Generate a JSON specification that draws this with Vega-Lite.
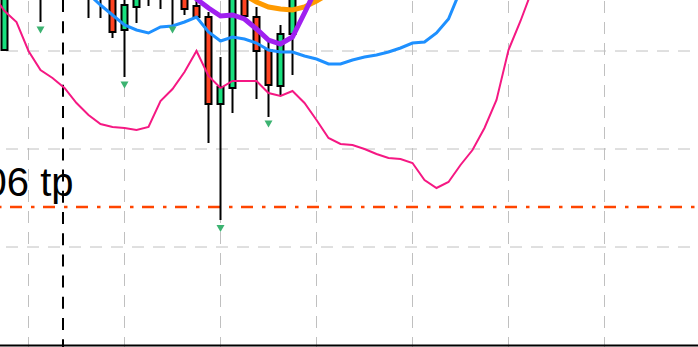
{
  "$schema": "https://vega.github.io/schema/vega-lite/v6.json",
  "width": 698,
  "height": 347,
  "autosize": {"type": "none"},
  "padding": 0,
  "background": "#ffffff",
  "config": {"view": {"stroke": null}, "scale": {"continuousPadding": 0}},
  "datasets": {
    "vgrid": [{"i": 2}, {"i": 10}, {"i": 18}, {"i": 26}, {"i": 34}, {"i": 42}, {"i": 50}],
    "hgrid": [{"v": 98}, {"v": 196}, {"v": 294}],
    "vline": [{"i": 4.875}],
    "tpline": [{"v": 138}],
    "baseline": [{"v": -0.5}],
    "label": [{"i": 5.75, "v": 149, "t": "06 tp"}],
    "candles": [
      {"i": 0, "o": 295, "h": 375, "l": 295, "c": 365},
      {"i": 3, "o": 360, "h": 385, "l": 323, "c": 375},
      {"i": 7, "o": 360, "h": 380, "l": 327, "c": 370},
      {"i": 8, "o": 365, "h": 380, "l": 327, "c": 358},
      {"i": 9, "o": 365, "h": 375, "l": 307, "c": 313},
      {"i": 10, "o": 315, "h": 350, "l": 268, "c": 340},
      {"i": 11, "o": 338, "h": 370, "l": 322, "c": 360},
      {"i": 12, "o": 355, "h": 375, "l": 339, "c": 365},
      {"i": 13, "o": 360, "h": 370, "l": 336, "c": 352},
      {"i": 14, "o": 355, "h": 372, "l": 318, "c": 365},
      {"i": 15, "o": 365, "h": 372, "l": 330, "c": 336},
      {"i": 16, "o": 339, "h": 352, "l": 328, "c": 328},
      {"i": 17, "o": 328, "h": 333, "l": 202, "c": 241},
      {"i": 18, "o": 241, "h": 288, "l": 125, "c": 258},
      {"i": 19, "o": 257, "h": 370, "l": 232, "c": 360},
      {"i": 20, "o": 365, "h": 372, "l": 329, "c": 329},
      {"i": 21, "o": 328, "h": 338, "l": 246, "c": 294},
      {"i": 22, "o": 295, "h": 305, "l": 228, "c": 260},
      {"i": 23, "o": 259, "h": 320, "l": 250, "c": 311},
      {"i": 24, "o": 311, "h": 370, "l": 270, "c": 360}
    ],
    "pink": [
      {"i": -1, "v": 351}, {"i": 0, "v": 334}, {"i": 1, "v": 323}, {"i": 2, "v": 294},
      {"i": 3, "v": 275}, {"i": 4, "v": 267}, {"i": 5, "v": 257}, {"i": 6, "v": 242},
      {"i": 7, "v": 230}, {"i": 8, "v": 221}, {"i": 9, "v": 218}, {"i": 10, "v": 217},
      {"i": 11, "v": 215}, {"i": 12, "v": 218}, {"i": 13, "v": 244}, {"i": 14, "v": 256},
      {"i": 15, "v": 273}, {"i": 16, "v": 294}, {"i": 17, "v": 269}, {"i": 18, "v": 257},
      {"i": 19, "v": 264}, {"i": 20, "v": 264}, {"i": 21, "v": 264}, {"i": 22, "v": 252},
      {"i": 23, "v": 249}, {"i": 24, "v": 254}, {"i": 25, "v": 242}, {"i": 26, "v": 225},
      {"i": 27, "v": 207}, {"i": 28, "v": 201}, {"i": 29, "v": 200}, {"i": 30, "v": 196},
      {"i": 31, "v": 191}, {"i": 32, "v": 187}, {"i": 33, "v": 186}, {"i": 34, "v": 182},
      {"i": 35, "v": 165}, {"i": 36, "v": 157}, {"i": 37, "v": 163}, {"i": 38, "v": 180},
      {"i": 39, "v": 195}, {"i": 40, "v": 217}, {"i": 41, "v": 245}, {"i": 42, "v": 295},
      {"i": 43, "v": 324}, {"i": 44, "v": 356}
    ],
    "blue": [
      {"i": 7, "v": 351}, {"i": 8, "v": 340}, {"i": 9, "v": 330}, {"i": 10, "v": 320},
      {"i": 11, "v": 315}, {"i": 12, "v": 312}, {"i": 13, "v": 318}, {"i": 14, "v": 319},
      {"i": 15, "v": 323}, {"i": 16, "v": 328}, {"i": 17, "v": 313}, {"i": 18, "v": 304},
      {"i": 19, "v": 308}, {"i": 20, "v": 306}, {"i": 21, "v": 302}, {"i": 22, "v": 295},
      {"i": 23, "v": 293}, {"i": 24, "v": 293}, {"i": 25, "v": 289}, {"i": 26, "v": 286},
      {"i": 27, "v": 281}, {"i": 28, "v": 281}, {"i": 29, "v": 285}, {"i": 30, "v": 288},
      {"i": 31, "v": 290}, {"i": 32, "v": 293}, {"i": 33, "v": 297}, {"i": 34, "v": 302},
      {"i": 35, "v": 303}, {"i": 36, "v": 312}, {"i": 37, "v": 326}, {"i": 38, "v": 355}
    ],
    "orange": [
      {"i": 20, "v": 350}, {"i": 21, "v": 343}, {"i": 22, "v": 338}, {"i": 23, "v": 336},
      {"i": 24, "v": 335}, {"i": 25, "v": 338}, {"i": 26, "v": 344}, {"i": 27, "v": 351}
    ],
    "purple": [
      {"i": 15, "v": 360}, {"i": 16, "v": 346}, {"i": 17, "v": 337}, {"i": 18, "v": 329},
      {"i": 19, "v": 330}, {"i": 20, "v": 326}, {"i": 21, "v": 316}, {"i": 22, "v": 305},
      {"i": 23, "v": 301}, {"i": 24, "v": 308}, {"i": 25, "v": 332}, {"i": 26, "v": 357}
    ],
    "arrows": [
      {"i": 3, "v": 315}, {"i": 10, "v": 260}, {"i": 14, "v": 315},
      {"i": 18, "v": 116.5}, {"i": 22, "v": 221}
    ]
  },
  "layer": [
    {
      "data": {"name": "vgrid"},
      "mark": {"type": "rule", "color": "#c0c0c0", "strokeWidth": 1, "strokeDash": [12, 9], "strokeDashOffset": 20},
      "encoding": {
        "x": {"field": "i", "type": "quantitative", "axis": null, "scale": {"domain": [-0.375, 57.7917], "nice": false, "zero": false, "padding": 0}}
      }
    },
    {
      "data": {"name": "hgrid"},
      "mark": {"type": "rule", "color": "#c0c0c0", "strokeWidth": 1, "strokeDash": [12, 9], "strokeDashOffset": 13},
      "encoding": {
        "y": {"field": "v", "type": "quantitative", "axis": null, "scale": {"domain": [-2, 345], "nice": false, "zero": false, "padding": 0}}
      }
    },
    {
      "data": {"name": "baseline"},
      "mark": {"type": "rule", "color": "#000000", "strokeWidth": 2},
      "encoding": {
        "y": {"field": "v", "type": "quantitative", "axis": null, "scale": {"domain": [-2, 345], "nice": false, "zero": false, "padding": 0}}
      }
    },
    {
      "data": {"name": "vline"},
      "mark": {"type": "rule", "color": "#000000", "strokeWidth": 2, "strokeDash": [12, 9.2]},
      "encoding": {
        "x": {"field": "i", "type": "quantitative", "axis": null, "scale": {"domain": [-0.375, 57.7917], "nice": false, "zero": false, "padding": 0}}
      }
    },
    {
      "data": {"name": "tpline"},
      "mark": {"type": "rule", "color": "#ff4500", "strokeWidth": 2.7, "strokeDash": [12, 8.5, 3.5, 9], "strokeDashOffset": 17},
      "encoding": {
        "y": {"field": "v", "type": "quantitative", "axis": null, "scale": {"domain": [-2, 345], "nice": false, "zero": false, "padding": 0}}
      }
    },
    {
      "data": {"name": "label"},
      "mark": {"type": "text", "font": "Liberation Sans", "fontSize": 40, "align": "right", "baseline": "alphabetic", "color": "#000000", "clip": true},
      "encoding": {
        "x": {"field": "i", "type": "quantitative", "axis": null, "scale": {"domain": [-0.375, 57.7917], "nice": false, "zero": false, "padding": 0}},
        "y": {"field": "v", "type": "quantitative", "axis": null, "scale": {"domain": [-2, 345], "nice": false, "zero": false, "padding": 0}},
        "text": {"field": "t"}
      }
    },
    {
      "data": {"name": "candles"},
      "mark": {"type": "rule", "color": "#000000", "strokeWidth": 2, "clip": true},
      "encoding": {
        "x": {"field": "i", "type": "quantitative", "axis": null, "scale": {"domain": [-0.375, 57.7917], "nice": false, "zero": false, "padding": 0}},
        "y": {"field": "l", "type": "quantitative", "axis": null, "scale": {"domain": [-2, 345], "nice": false, "zero": false, "padding": 0}},
        "y2": {"field": "h"}
      }
    },
    {
      "data": {"name": "candles"},
      "mark": {"type": "bar", "size": 6, "stroke": "#000000", "strokeWidth": 2, "clip": true},
      "encoding": {
        "x": {"field": "i", "type": "quantitative", "axis": null, "scale": {"domain": [-0.375, 57.7917], "nice": false, "zero": false, "padding": 0}},
        "y": {"field": "o", "type": "quantitative", "axis": null, "scale": {"domain": [-2, 345], "nice": false, "zero": false, "padding": 0}},
        "y2": {"field": "c"},
        "color": {"condition": {"test": "datum.c > datum.o", "value": "#18e07e"}, "value": "#ff4422"}
      }
    },
    {
      "data": {"name": "pink"},
      "mark": {"type": "line", "color": "#f51883", "strokeWidth": 2, "clip": true},
      "encoding": {
        "x": {"field": "i", "type": "quantitative", "axis": null, "scale": {"domain": [-0.375, 57.7917], "nice": false, "zero": false, "padding": 0}},
        "y": {"field": "v", "type": "quantitative", "axis": null, "scale": {"domain": [-2, 345], "nice": false, "zero": false, "padding": 0}}
      }
    },
    {
      "data": {"name": "blue"},
      "mark": {"type": "line", "color": "#1e90ff", "strokeWidth": 3, "clip": true},
      "encoding": {
        "x": {"field": "i", "type": "quantitative", "axis": null, "scale": {"domain": [-0.375, 57.7917], "nice": false, "zero": false, "padding": 0}},
        "y": {"field": "v", "type": "quantitative", "axis": null, "scale": {"domain": [-2, 345], "nice": false, "zero": false, "padding": 0}}
      }
    },
    {
      "data": {"name": "orange"},
      "mark": {"type": "line", "color": "#ff9a00", "strokeWidth": 5, "clip": true},
      "encoding": {
        "x": {"field": "i", "type": "quantitative", "axis": null, "scale": {"domain": [-0.375, 57.7917], "nice": false, "zero": false, "padding": 0}},
        "y": {"field": "v", "type": "quantitative", "axis": null, "scale": {"domain": [-2, 345], "nice": false, "zero": false, "padding": 0}}
      }
    },
    {
      "data": {"name": "purple"},
      "mark": {"type": "line", "color": "#a020f0", "strokeWidth": 5, "clip": true},
      "encoding": {
        "x": {"field": "i", "type": "quantitative", "axis": null, "scale": {"domain": [-0.375, 57.7917], "nice": false, "zero": false, "padding": 0}},
        "y": {"field": "v", "type": "quantitative", "axis": null, "scale": {"domain": [-2, 345], "nice": false, "zero": false, "padding": 0}}
      }
    },
    {
      "data": {"name": "arrows"},
      "mark": {"type": "point", "shape": "triangle-down", "filled": true, "size": 64, "color": "#3cb371", "opacity": 1},
      "encoding": {
        "x": {"field": "i", "type": "quantitative", "axis": null, "scale": {"domain": [-0.375, 57.7917], "nice": false, "zero": false, "padding": 0}},
        "y": {"field": "v", "type": "quantitative", "axis": null, "scale": {"domain": [-2, 345], "nice": false, "zero": false, "padding": 0}}
      }
    }
  ]
}
